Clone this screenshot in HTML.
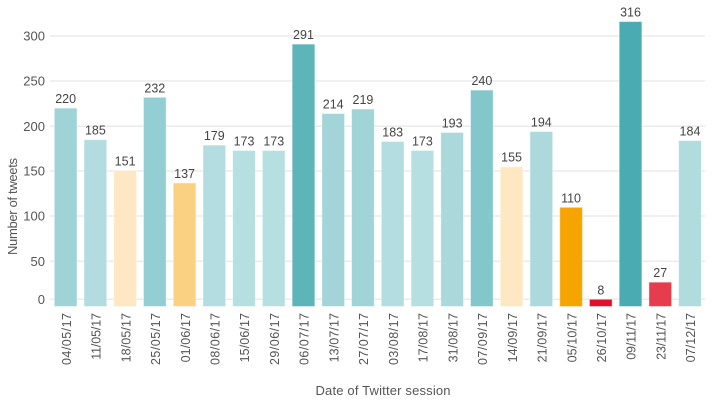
<!DOCTYPE html>
<html><head><meta charset="utf-8"><style>
html,body{margin:0;padding:0;background:#fff;}
svg{display:block;font-family:"Liberation Sans",sans-serif;}
</style></head><body>
<svg width="713" height="402" viewBox="0 0 713 402" xmlns="http://www.w3.org/2000/svg">
<g stroke="#ebebeb" stroke-width="1.5">
<line x1="50" x2="705" y1="36" y2="36"/>
<line x1="50" x2="705" y1="81" y2="81"/>
<line x1="50" x2="705" y1="126.3" y2="126.3"/>
<line x1="50" x2="705" y1="171" y2="171"/>
<line x1="50" x2="705" y1="216" y2="216"/>
<line x1="50" x2="705" y1="261.3" y2="261.3"/>
<line x1="50" x2="705" y1="299.3" y2="299.3"/>
</g>
<g fill="#555" font-size="13" text-anchor="end">
<text x="45" y="40.5">300</text>
<text x="45" y="85.5">250</text>
<text x="45" y="130.8">200</text>
<text x="45" y="175.5">150</text>
<text x="45" y="220.5">100</text>
<text x="45" y="265.8">50</text>
<text x="45" y="303.8">0</text>
</g>
<text transform="translate(17,206.5) rotate(-90)" text-anchor="middle" font-size="13" fill="#555" textLength="97" lengthAdjust="spacing">Number of tweets</text>
<text x="383" y="395" text-anchor="middle" font-size="13" fill="#555" textLength="135" lengthAdjust="spacing">Date of Twitter session</text>
<g id="bars" stroke="rgba(255,255,255,0.45)" stroke-width="1"></g>
<g id="vals" fill="#444" font-size="12.5" text-anchor="middle"></g>
<g id="xl" fill="#555" font-size="12.5" text-anchor="end"></g>
<script>
var d=[["04/05/17",220,"#9fd3d6"],["11/05/17",185,"#b2dcdf"],["18/05/17",151,"#fee8c4"],["25/05/17",232,"#93ced2"],["01/06/17",137,"#fad183"],["08/06/17",179,"#b3dde0"],["15/06/17",173,"#b6dfe1"],["29/06/17",173,"#b6dfe1"],["06/07/17",291,"#5db5b9"],["13/07/17",214,"#a3d5d8"],["27/07/17",219,"#a0d4d7"],["03/08/17",183,"#b3dde0"],["17/08/17",173,"#b6dfe1"],["31/08/17",193,"#aad8db"],["07/09/17",240,"#84c7cb"],["14/09/17",155,"#fee8c4"],["21/09/17",194,"#add9dc"],["05/10/17",110,"#f6a500"],["26/10/17",8,"#e0102a"],["09/11/17",316,"#4aacb2"],["23/11/17",27,"#e63d4e"],["07/12/17",184,"#b0dcde"]];
var ns="http://www.w3.org/2000/svg";
var B=document.getElementById("bars"),V=document.getElementById("vals"),X=document.getElementById("xl");
var z=306.5,k=0.9017;
d.forEach(function(r,i){
 var x=54.3+i*29.73,w=22.7,h=r[1]*k,y=z-h,cx=x+w/2;
 var re=document.createElementNS(ns,"rect");
 re.setAttribute("x",x);re.setAttribute("y",y);re.setAttribute("width",w);re.setAttribute("height",h);re.setAttribute("fill",r[2]);
 B.appendChild(re);
 var t=document.createElementNS(ns,"text");
 t.setAttribute("x",cx);t.setAttribute("y",y-5);t.textContent=r[1];V.appendChild(t);
 var n1=(r[0].match(/1/g)||[]).length;
 var len=52-2.6*(n1-1);
 var l=document.createElementNS(ns,"text");
 l.setAttribute("transform","translate("+(cx+5.2)+",313) rotate(-90)");
 l.setAttribute("textLength",len);l.setAttribute("lengthAdjust","spacing");
 l.textContent=r[0];X.appendChild(l);
});
</script>
</svg>
</body></html>
